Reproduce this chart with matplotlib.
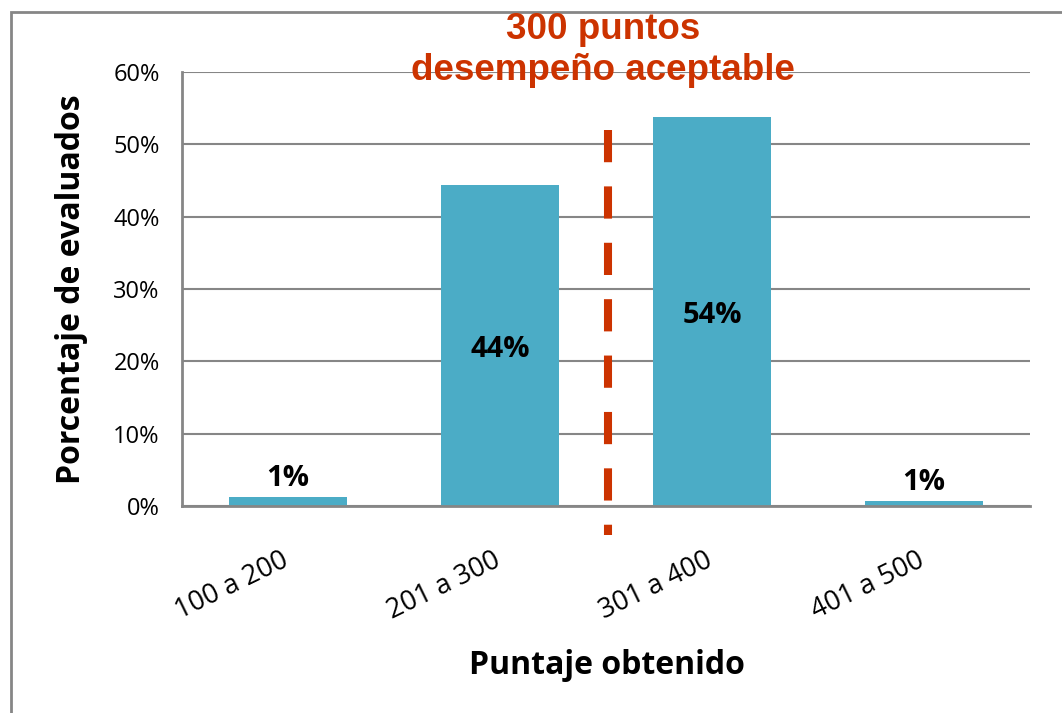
import matplotlib.pyplot as plt
import matplotlib.patches as patches
import matplotlib.transforms as mtransforms
from matplotlib.ticker import PercentFormatter

# Data:
categories = ["100 a 200", "201 a 300", "301 a 400", "401 a 500"]
values = [1.2, 44.4, 53.8, 0.7]
labels = ["1%", "44%", "54%", "1%"]
cutoff_pos = 1.51
cutoff_range = [52.0, -4.0]

bar_color = "#4BACC6"
red = "#CC3300"
grid_color = "#868686"

# Setup figure:
fig = plt.figure(figsize=(10.62, 7.13), dpi=100)
ax = fig.add_axes([182/1062, 1 - 506/713, 848/1062, 434/713])

# Outer frame
fig.patches.append(patches.Rectangle((11/1062, -0.1), 1.2, (713 - 12)/713 + 0.1,
                                     transform=fig.transFigure, fill=False,
                                     edgecolor=grid_color, lw=2))

x = range(len(categories))
ax.bar(x, values, width=0.557, color=bar_color, zorder=2)

for i, (v, lab) in enumerate(zip(values, labels)):
    if v > 10:
        ax.text(i, v / 2 - 0.6, lab, ha="center", va="center", fontsize=21,
                fontweight="bold", family="Open Sans", zorder=3)
    else:
        ax.text(i, v + 0.6, lab, ha="center", va="bottom", fontsize=21,
                fontweight="bold", family="Open Sans", zorder=3)

ax.set_xlim(-0.5, 3.5)
ax.set_ylim(0, 60)
ax.set_yticks(range(0, 61, 10))
ax.yaxis.set_major_formatter(PercentFormatter(decimals=0))
ax.grid(axis="y", color=grid_color, lw=1.5, zorder=0)
for s in ["top", "right"]:
    ax.spines[s].set_visible(False)
for s in ["left", "bottom"]:
    ax.spines[s].set_color(grid_color)
    ax.spines[s].set_linewidth(2)
ax.tick_params(axis="y", length=0, labelsize=17, pad=16)
ax.tick_params(axis="x", length=0, labelsize=19.5, pad=29)
ax.set_xticks(list(x))
ax.set_xticklabels(categories, rotation=26, ha="right", rotation_mode="anchor",
                   family="Open Sans")
shift = mtransforms.ScaledTranslation(-0.07, 0, fig.dpi_scale_trans)
for t in ax.get_xticklabels():
    t.set_transform(t.get_transform() + shift)
for t in ax.get_yticklabels():
    t.set_family("Open Sans")

# Cutoff line
ax.plot([cutoff_pos, cutoff_pos], cutoff_range, color=red, lw=5.8,
        dashes=(4, 3), clip_on=False, zorder=4)

fig.text(603/1062, 1 - 50/713, "300 puntos\ndesempeño aceptable", ha="center",
         va="center", color=red, fontsize=26.5, fontweight="bold",
         family="Liberation Sans")

ax.set_ylabel("Porcentaje de evaluados", fontsize=23, fontweight="bold",
              family="Open Sans")
ax.yaxis.set_label_coords(-0.111, 0.5)
ax.set_xlabel("Puntaje obtenido", fontsize=23, fontweight="bold",
              family="Open Sans")
ax.xaxis.set_label_coords(0.501, -0.33)

plt.savefig("out.png", dpi=100)
